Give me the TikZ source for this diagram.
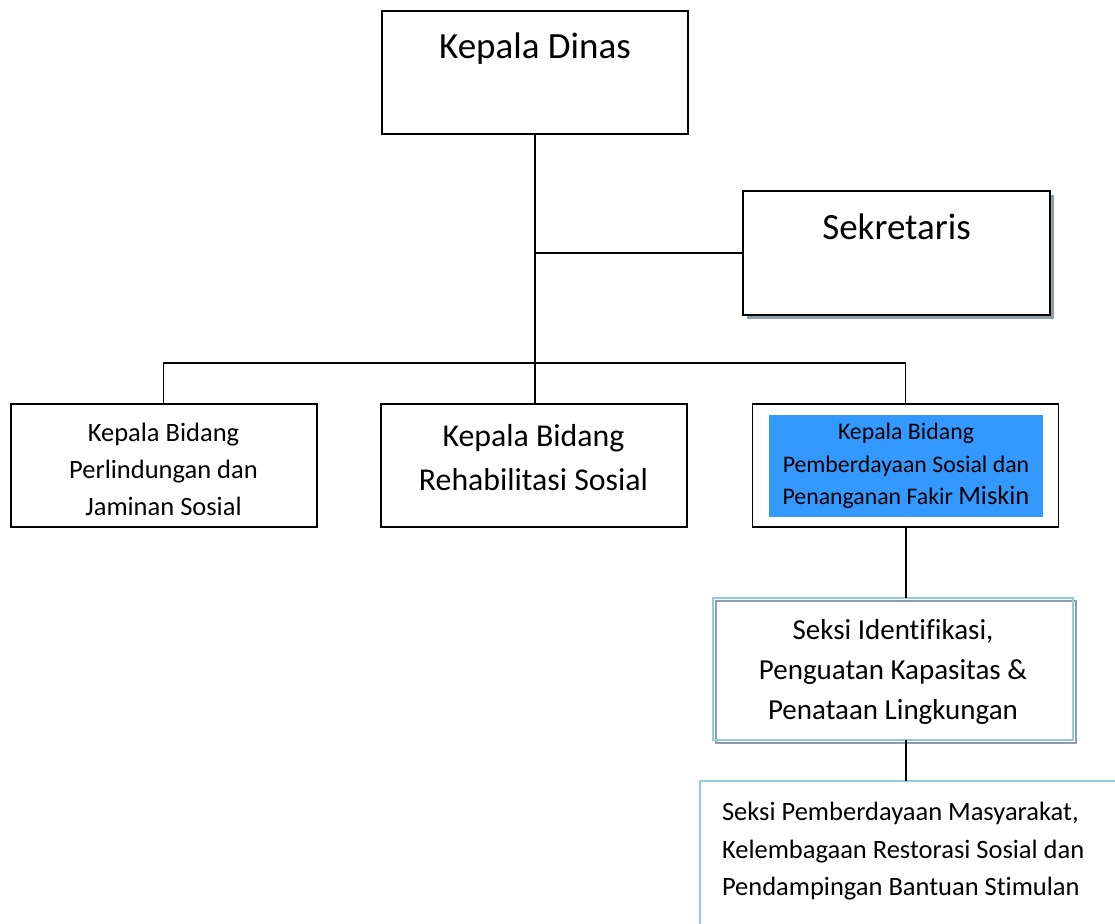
\documentclass[tikz,border=0pt]{standalone}
\usepackage{fontspec}
\setmainfont{Carlito}[Ligatures=NoCommon]
\usepackage{tikz}
\usetikzlibrary{
	shadows,
	backgrounds,
	}
\definecolor{seksiblue}{RGB}{146,205,220}
\definecolor{shadowgray}{RGB}{139,160,173}
\definecolor{bidangblue}{RGB}{51,153,255}

\begin{document}
\begin{tikzpicture}[x=1pt,y=-1pt,
	box/.style={draw,line width=2pt,fill=white,shape=rectangle,inner sep=0pt,outer sep=0pt,minimum width=306pt,minimum height=123pt,align=flush center},
	seksibox/.style={draw=seksiblue,line width=2.5pt,shape=rectangle,inner sep=0pt,outer sep=0pt,align=flush center},
	link/.style={line width=1.5pt},
	sublink/.style={line width=2pt}]
\useasboundingbox (0,0) rectangle (1115,923);
\clip (0,0) rectangle (1115,923);
\node[box,font=\fontsize{37}{44}\selectfont,text height=48pt,text depth=75pt] (dinas) at (535,72.5) {Kepala Dinas};
\node[box,minimum width=307pt,minimum height=124pt,font=\fontsize{37}{44}\selectfont,text height=48pt,text depth=76pt,
	drop shadow={shadow xshift=3.5pt,shadow yshift=-3.5pt,fill=shadowgray,opacity=1}] (sekr) at (896.5,253) {Sekretaris};
\node[box,text width=300pt,text height=37.5pt,text depth=85.5pt,font=\fontsize{26.5}{37}\selectfont] (lbox) at (163.5,465.5) {Kepala Bidang\\Perlindungan dan\\Jaminan Sosial};
\node[box,text width=300pt,text height=42pt,text depth=81pt,font=\fontsize{31.8}{44}\selectfont] (mbox) at (533.5,465.5) {Kepala Bidang\\Rehabilitasi Sosial};
\node[box,line width=1.5pt] (rbox) at (905.5,465.5) {};
\node[fill=bidangblue,minimum width=274pt,minimum height=102pt,inner sep=0pt,align=center,font=\fontsize{23.8}{32.5}\selectfont] (bidang) at (906,466)
	{Kepala Bidang\\Pemberdayaan Sosial dan\\Penanganan Fakir {\fontsize{26.5}{32.5}\selectfont Miskin}};
\node[seksibox,minimum width=360pt,text width=350pt,text height=41.3pt,text depth=100.7pt,font=\fontsize{29}{40}\selectfont] (seksi1) at (893,669)
	{Seksi Identifikasi,\\Penguatan Kapasitas \&\\Penataan Lingkungan};
\node[seksibox,anchor=north west,align=flush left,text width=390pt,inner xsep=22pt,text height=39.5pt,text depth=200pt,font=\fontsize{26.5}{37.5}\selectfont] (seksi2) at (700,781)
	{Seksi Pemberdayaan Masyarakat,\\Kelembagaan Restorasi Sosial dan\\Pendampingan Bantuan Stimulan};
\coordinate (bar) at (535,363);
\begin{scope}[on background layer]
\draw[shadowgray,line width=2.5pt] ([shift={(3,3)}]seksi1.north west) rectangle ([shift={(3,3)}]seksi1.south east);
\draw[link] (dinas.south) -- (dinas.south |- mbox.north);
\draw[link] (dinas.south |- sekr.west) -- (sekr.west);
\draw[link] (lbox.north) |- (bar) -| (rbox.north);
\end{scope}
\draw[sublink] (rbox.south) -- (rbox.south |- seksi1.north);
\draw[sublink] (rbox.south |- seksi1.south) -- (rbox.south |- seksi2.north);
\end{tikzpicture}
\end{document}
